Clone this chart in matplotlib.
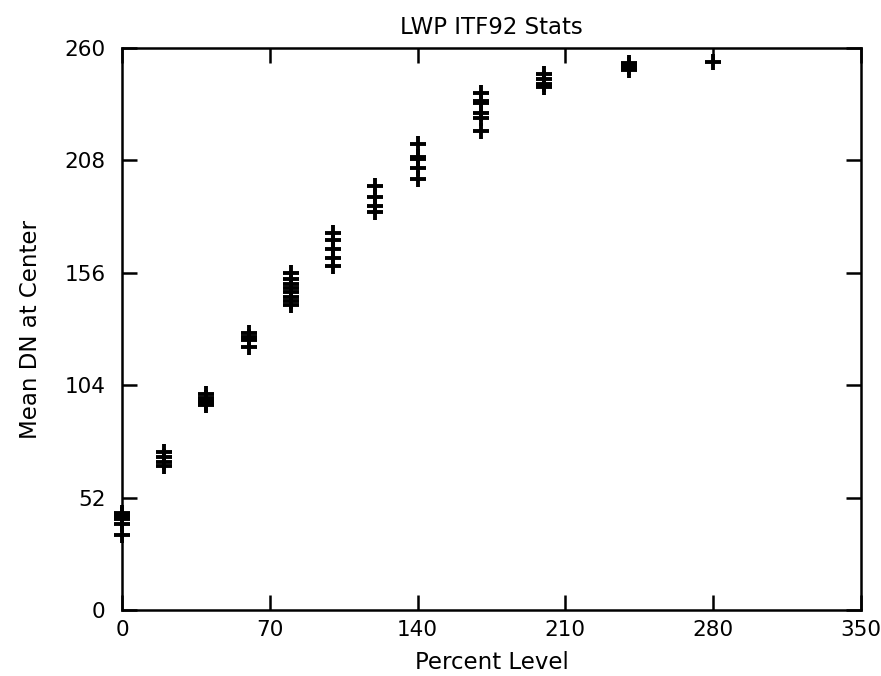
import matplotlib
matplotlib.use("Agg")
import matplotlib.pyplot as plt
import numpy as np

# percent levels and the mean DN readings at each one
levels = [0, 20, 40, 60, 80, 100, 120, 140, 170, 200, 240, 280]
mean_dn = [
    [45, 44, 43, 42, 40, 34.5],
    [73, 71, 68.5, 66.5],
    [100, 98, 97, 96, 95],
    [128, 126.5, 125, 121.5],
    [156, 153, 151, 149, 147, 145, 143, 141],
    [174.5, 171, 167, 163, 159],
    [196, 191, 187, 184],
    [215.5, 209.5, 208.5, 204.5, 199.5],
    [239, 235.5, 234.5, 230, 227.5, 221.5],
    [248, 245.5, 243.5, 242],
    [253, 252, 251, 250],
    [253.5],
]

x = []
y = []
for lv, vals in zip(levels, mean_dn):
    for v in vals:
        x.append(lv)
        y.append(v)

fig = plt.figure(figsize=(8.81, 6.76), dpi=100)
ax = fig.add_axes([0.1385, 0.0976, 0.8385, 0.8314])

ax.plot(x, y, linestyle='none', marker='+', markersize=11.5,
        markeredgewidth=2.8, color='black', clip_on=False)

ax.set_xlim(0, 350)
ax.set_ylim(0, 260)
ax.set_xticks(np.arange(0, 351, 70))
ax.set_yticks(np.arange(0, 261, 52))

ax.tick_params(direction='in', length=11, width=1.8, top=True, right=True,
               labelsize=15.5)
ax.tick_params(axis='y', pad=12)
ax.tick_params(axis='x', pad=7)
for s in ax.spines.values():
    s.set_linewidth(1.8)

ax.set_title('LWP ITF92 Stats', fontsize=16.5, pad=10)
ax.set_xlabel('Percent Level', fontsize=16.5, labelpad=8)
ax.set_ylabel('Mean DN at Center', fontsize=16.5, labelpad=16)

fig.savefig('out.png', dpi=100)
